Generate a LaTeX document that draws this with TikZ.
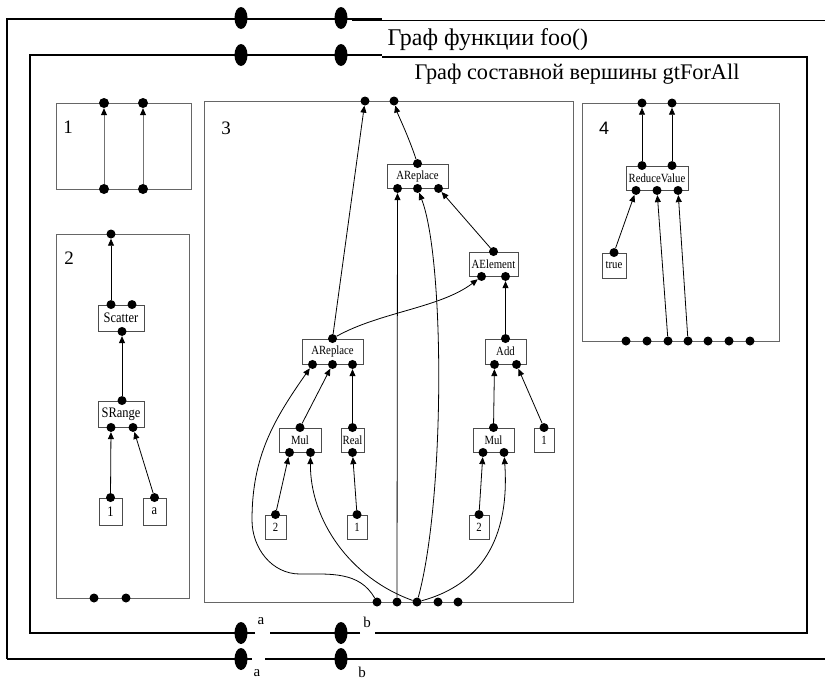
\documentclass[tikz,border=0pt]{standalone}
\usepackage{fontspec}
\setmainfont{Liberation Serif}
\newfontfamily\arialfont{Liberation Sans}
\newfontfamily\narrowfont[FakeStretch=0.86]{Liberation Serif}
\usetikzlibrary{arrows.meta,shapes.geometric}

\tikzset{
  frm/.style={line width=1.4pt},
  pnl/.style={draw=black!60,line width=0.9pt},
  vtx/.style={draw=black!70,line width=0.9pt,fill=white,inner sep=0pt,font=\narrowfont\fontsize{12.5}{13}\selectfont},
  bvtx/.style={vtx,font=\narrowfont\fontsize{14.5}{15}\selectfont},
  dot/.style={circle,fill=black,inner sep=0pt,minimum size=9pt},
  port/.style={ellipse,fill=black,inner sep=0pt,minimum width=13pt,minimum height=22pt},
  arc/.style={-{Triangle[width=6pt,length=7pt,color=black]},line width=0.8pt},
  num/.style={font=\fontsize{19}{20}\selectfont},
  lbl/.style={font=\fontsize{15}{16}\selectfont,inner sep=0pt},
}

\begin{document}
\begin{tikzpicture}[x=1pt,y=-1pt]
\useasboundingbox (0,0) rectangle (825,681);
% граф функции foo()
\draw[frm] (7,659)--(7,19)--(382,19);
\draw[frm] (352,20.5)--(825,20.5);
\draw[frm] (7,659)--(252,659) (265,659)--(825,659);
\node[anchor=base west,font=\fontsize{24}{25}\selectfont] (tfoo) at (384,45) {Граф функции foo()};
% граф gtForAll
\draw[frm] (382,57)--(807,57)--(807,633)--(375,633) (360,633)--(270,633)
  (255,633)--(30,633)--(30,55)--(382,55);
\node[anchor=base west,font=\fontsize{22.3}{23}\selectfont] (tall) at (411,79) {Граф составной вершины gtForAll};
% порты
\node[port] (fa1) at (241,18) {};
\node[port] (fb1) at (341,18) {};
\node[port] (ga1) at (241,55) {};
\node[port] (gb1) at (341,55) {};
\node[port] (ga2) at (241,633) {};
\node[port] (gb2) at (341,633) {};
\node[port] (fa2) at (241,659) {};
\node[port] (fb2) at (341,659) {};
\node[lbl] (la1) at (261,621) {a};
\node[lbl] (lb1) at (367,622) {b};
\node[lbl] (la2) at (257,673) {a};
\node[lbl] (lb2) at (362,672) {b};

% панели
\draw[pnl] (56,103) rectangle (191,189);
\draw[pnl] (56,234) rectangle (189,598);
\draw[pnl] (204,101) rectangle (573,602);
\draw[pnl] (582,103) rectangle (779,341);
\node[num] (n1) at (68,127) {1};
\node[num] (n2) at (69,258) {2};
\node[num] (n3) at (226,128) {3};
\node[num,font=\arialfont\fontsize{18}{19}\selectfont] (n4) at (604,128) {4};

% панель 1
\foreach \x [count=\i] in {104,143}{
  \node[dot,minimum size=10pt] (p1i\i) at (\x,189) {};
  \node[dot,minimum size=10pt] (p1o\i) at (\x,103) {};
  \draw[arc,draw=black!55] (p1i\i)--(p1o\i);
}

% панель 2
\node[bvtx,minimum width=46pt,minimum height=26pt] (sc) at (121,318) {Scatter};
\node[dot] (sco1) at ([xshift=-10pt]sc.north) {};
\node[dot] (sco2) at ([xshift=11pt]sc.north) {};
\node[dot] (sci) at ([xshift=1pt]sc.south) {};
\node[bvtx,minimum width=46pt,minimum height=26pt] (sr) at (121,414) {SRange};
\node[dot] (sro) at ([xshift=1pt]sr.north) {};
\node[dot] (sri1) at ([xshift=-10pt]sr.south) {};
\node[dot] (sri2) at ([xshift=12pt]sr.south) {};
\node[bvtx,minimum width=23pt,minimum height=27pt] (c1) at (110.5,511.5) {1};
\node[dot] (c1o) at (c1.north) {};
\node[bvtx,minimum width=23pt,minimum height=27pt] (ca) at (154.5,511.5) {a};
\node[dot] (cao) at (ca.north) {};
\node[dot] (p2o) at (111,234) {};
\foreach \x [count=\i] in {94,126}
  \node[dot] (p2i\i) at (\x,598) {};
\draw[arc] (sco1)--(p2o);
\draw[arc] (sro)--(sci);
\draw[arc] (c1o)--(sri1);
\draw[arc] (cao)--(sri2);

% панель 3
\node[vtx,minimum width=61pt,minimum height=24pt] (ar1) at (417.5,176) {AReplace};
\node[dot] (ar1o) at (ar1.north) {};
\foreach \s [count=\i] in {-20,0,21}
  \node[dot] (ar1i\i) at ([xshift=\s pt]ar1.south) {};
\node[vtx,minimum width=49pt,minimum height=24pt] (ae) at (493.5,264) {AElement};
\node[dot] (aeo) at (ae.north) {};
\foreach \s [count=\i] in {-12,12}
  \node[dot] (aei\i) at ([xshift=\s pt]ae.south) {};
\node[vtx,minimum width=61pt,minimum height=25pt] (ar2) at (332.5,351.5) {AReplace};
\node[dot] (ar2o) at (ar2.north) {};
\foreach \s [count=\i] in {-20,0,20}
  \node[dot] (ar2i\i) at ([xshift=\s pt]ar2.south) {};
\node[vtx,minimum width=41pt,minimum height=25pt] (add) at (505.5,351.5) {Add};
\node[dot] (addo) at (add.north) {};
\foreach \s [count=\i] in {-11,11}
  \node[dot] (addi\i) at ([xshift=\s pt]add.south) {};
\node[vtx,minimum width=42pt,minimum height=24pt] (mu1) at (300,440) {Mul};
\node[dot] (mu1o) at (mu1.north) {};
\foreach \s [count=\i] in {-10.5,10.5}
  \node[dot] (mu1i\i) at ([xshift=\s pt]mu1.south) {};
\node[vtx,minimum width=23pt,minimum height=24pt] (re) at (352.5,440) {Real};
\node[dot] (reo) at (re.north) {};
\node[dot] (rei) at (re.south) {};
\node[vtx,minimum width=41pt,minimum height=24pt] (mu2) at (493.5,440) {Mul};
\node[dot] (mu2o) at (mu2.north) {};
\foreach \s [count=\i] in {-10.5,10.5}
  \node[dot] (mu2i\i) at ([xshift=\s pt]mu2.south) {};
\node[vtx,minimum width=20pt,minimum height=24pt] (k1) at (544,440) {1};
\node[dot] (k1o) at (k1.north) {};
\node[vtx,minimum width=21pt,minimum height=24pt] (k2) at (275.5,527) {2};
\node[dot] (k2o) at (k2.north) {};
\node[vtx,minimum width=20pt,minimum height=24pt] (k3) at (357,527) {1};
\node[dot] (k3o) at (k3.north) {};
\node[vtx,minimum width=20pt,minimum height=24pt] (k4) at (479,527) {2};
\node[dot] (k4o) at (k4.north) {};
\foreach \x [count=\i] in {365,394}
  \node[dot] (p3o\i) at (\x,101) {};
\foreach \x [count=\i] in {377,397,417,438,458}
  \node[dot] (p3i\i) at (\x,602) {};
\draw[arc] (ar1o) .. controls (408,135) and (398,115) .. (p3o2);
\draw[arc] (ar2o)--(p3o1);
\draw[arc] (aeo)--(ar1i3);
\draw[arc] (ar2o) .. controls (380,312) and (440,308) .. (aei1);
\draw[arc] (addo)--(aei2);
\draw[arc] (mu1o)--(ar2i2);
\draw[arc] (reo)--(ar2i3);
\draw[arc] (k2o)--(mu1i1);
\draw[arc] (k3o)--(rei);
\draw[arc] (k4o)--(mu2i1);
\draw[arc] (mu2o)--(addi1);
\draw[arc] (k1o)--(addi2);
\draw[arc] (p3i2)--(ar1i1);
\draw[arc] (p3i1) to[out=120,in=0] (300,574) to[out=180,in=270] (252,520)
  to[out=90,in=235] (ar2i1);
\draw[arc] (p3i3) .. controls (350,578) and (310,520) .. (mu1i2);
\draw[arc] (p3i3) .. controls (480,585) and (510,540) .. (mu2i2);
\draw[arc] (p3i3) .. controls (445,500) and (445,260) .. (ar1i2);

% панель 4
\node[vtx,minimum width=62pt,minimum height=24pt] (rv) at (657,178) {ReduceValue};
\foreach \s [count=\i] in {-15,15}
  \node[dot] (rvo\i) at ([xshift=\s pt]rv.north) {};
\foreach \s [count=\i] in {-21,0,21}
  \node[dot] (rvi\i) at ([xshift=\s pt]rv.south) {};
\node[vtx,minimum width=24pt,minimum height=25pt] (tr) at (614,265.5) {true};
\node[dot] (tro) at (tr.north) {};
\foreach \x [count=\i] in {642,672}
  \node[dot] (p4o\i) at (\x,103) {};
\foreach \x [count=\i] in {626,647,668,688,708,729,750}
  \node[dot] (p4i\i) at (\x,341) {};
\draw[arc] (rvo1)--(p4o1);
\draw[arc] (rvo2)--(p4o2);
\draw[arc] (tro)--(rvi1);
\draw[arc] (p4i3)--(rvi2);
\draw[arc] (p4i4)--(rvi3);
\end{tikzpicture}
\end{document}
